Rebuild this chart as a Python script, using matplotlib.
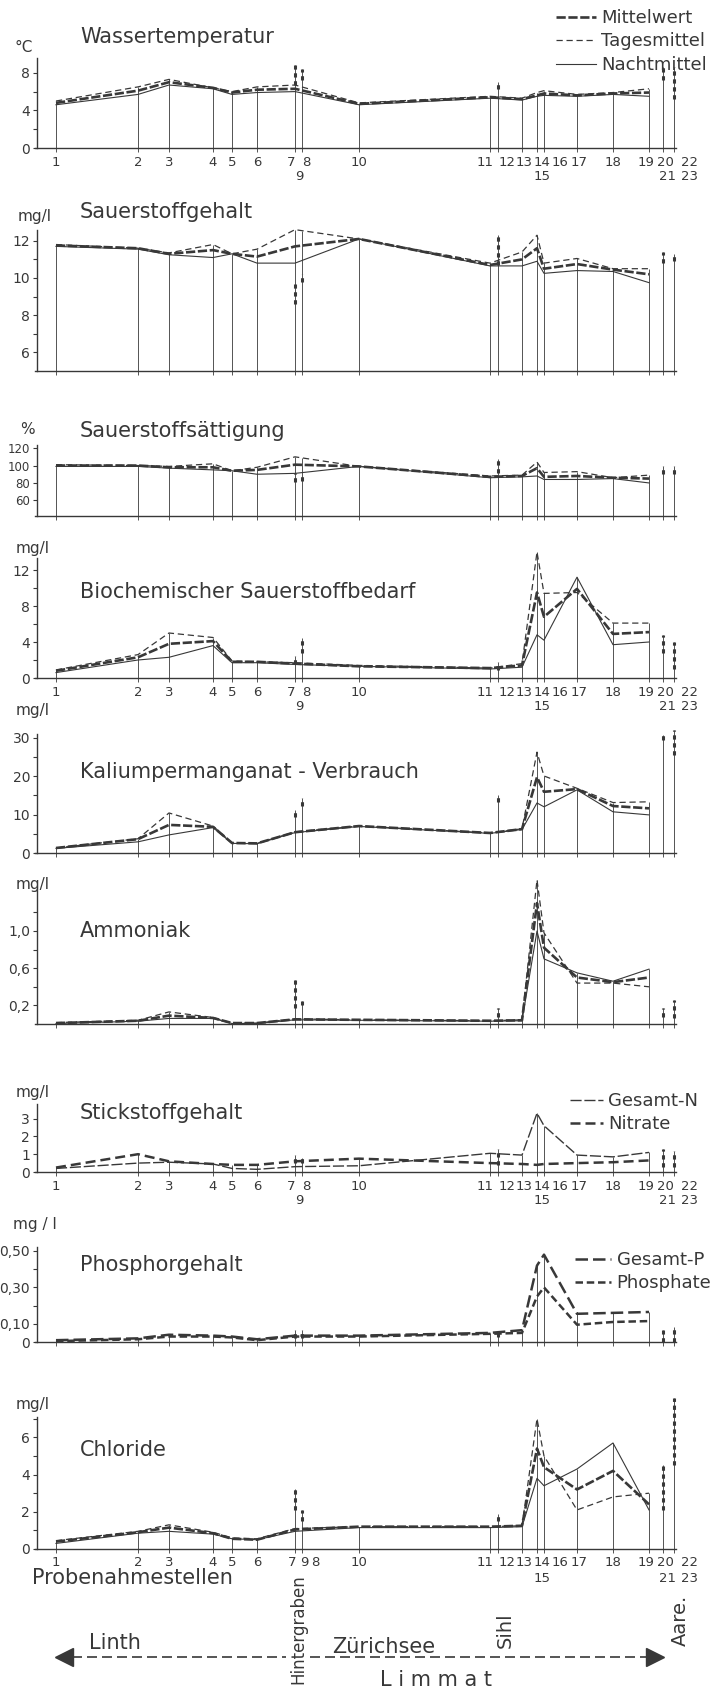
import numpy as np
import matplotlib.pyplot as plt
from matplotlib.lines import Line2D

W, H = 724, 1695
INK = "#383838"
plt.rcParams["font.family"] = ["DejaVu Sans"]

# Probenahmestellen, Lage entlang Linth - Zürichsee - Limmat (Zeichnungseinheiten)
stations = ["1", "2", "3", "4", "5", "6", "7", "8", "9", "10", "11", "12",
            "13", "14", "15", "16", "17", "18", "19", "20", "21", "22", "23"]
station_x = [56, 138, 169, 213, 232, 257, 295, 302, 299, 359, 490, 498,
             522, 537, 539, 544, 577, 613, 649, 663, 663, 674, 674]
X = dict(zip(stations, station_x))
main = ["1", "2", "3", "4", "5", "6", "7", "10", "11", "13", "14", "16", "17", "18", "19"]
side = ["7", "8", "12", "20", "22"]  # Einzelwerte (Zuflüsse, Aare)

# Wassertemperatur °C
temp_mittel = [4.8, 6.1, 7.0, 6.4, 5.9, 6.2, 6.3, 4.7, 5.4, 5.2, 5.6, 5.8, 5.6, 5.8, 5.9]
temp_tages = [5.0, 6.5, 7.3, 6.4, 6.0, 6.5, 6.7, 4.8, 5.5, 5.3, 5.9, 6.1, 5.7, 5.9, 6.3]
temp_nacht = [4.6, 5.7, 6.7, 6.3, 5.7, 5.9, 6.0, 4.6, 5.3, 5.1, 5.5, 5.6, 5.5, 5.7, 5.5]
temp_marks = [(6.7, 8.8), (7.2, 8.4), (6.3, 7.0), (7.2, 8.6), (5.2, 8.6)]

# Sauerstoffgehalt mg/l
o2_mittel = [11.75, 11.6, 11.3, 11.5, 11.3, 11.15, 11.7, 12.1, 10.7, 11.0, 11.6, 10.5, 10.75, 10.45, 10.2]
o2_tages = [11.8, 11.6, 11.35, 11.8, 11.3, 11.55, 12.6, 12.1, 10.8, 11.4, 12.3, 10.8, 11.05, 10.5, 10.5]
o2_nacht = [11.7, 11.55, 11.25, 11.1, 11.3, 10.8, 10.8, 12.1, 10.65, 10.65, 10.9, 10.25, 10.4, 10.35, 9.75]
o2_marks = [(8.6, 9.7), (9.8, 10.2), (10.7, 12.3), (10.8, 11.4), (10.9, 11.3)]

# Sauerstoffsättigung %
sat_mittel = [100, 100, 98, 98, 94, 95, 101, 99, 87, 88, 97, 87, 88, 86, 85]
sat_tages = [101, 100, 99, 102, 94, 98, 110, 99, 88, 89, 104, 92, 93, 86, 89]
sat_nacht = [99, 99, 97, 95, 94, 90, 91, 99, 86, 87, 88, 84, 84, 85, 80]
sat_marks = [(81, 91), (82, 90), (91, 108), (90, 99), (90, 99)]

# Biochemischer Sauerstoffbedarf mg/l
bsb_mittel = [0.8, 2.3, 3.8, 4.1, 1.8, 1.8, 1.6, 1.3, 1.1, 1.4, 9.5, 6.8, 9.9, 4.9, 5.1]
bsb_tages = [0.9, 2.6, 5.0, 4.5, 1.9, 1.8, 1.7, 1.4, 1.1, 1.6, 14.0, 9.4, 9.5, 6.1, 6.1]
bsb_nacht = [0.6, 2.0, 2.3, 3.6, 1.7, 1.7, 1.5, 1.3, 1.0, 1.2, 4.8, 4.2, 11.2, 3.7, 4.0]
bsb_marks = [(1.6, 2.4), (2.8, 4.5), (0.9, 1.8), (2.8, 4.8), (1.0, 4.0)]

# Kaliumpermanganat-Verbrauch mg/l
kmn_mittel = [1.3, 3.6, 7.3, 6.8, 2.6, 2.5, 5.4, 7.0, 5.2, 6.2, 19.7, 15.9, 16.6, 12.2, 11.6]
kmn_tages = [1.3, 3.7, 10.4, 7.0, 2.6, 2.5, 5.5, 7.0, 5.2, 6.3, 26.2, 20.0, 16.8, 13.1, 13.3]
kmn_nacht = [1.2, 2.9, 4.7, 6.6, 2.5, 2.4, 5.3, 6.9, 5.1, 6.1, 13.0, 12.0, 16.4, 10.7, 9.9]
kmn_marks = [(9.4, 11.2), (12.2, 14.3), (13.3, 15.0), (29.4, 30.6), (25.4, 32.0)]

# Ammoniak mg/l
nh_mittel = [0.01, 0.035, 0.09, 0.065, 0.01, 0.01, 0.05, 0.045, 0.035, 0.04, 1.3, 0.82, 0.50, 0.45, 0.50]
nh_tages = [0.015, 0.04, 0.13, 0.07, 0.01, 0.01, 0.055, 0.045, 0.035, 0.045, 1.55, 0.98, 0.44, 0.44, 0.40]
nh_nacht = [0.005, 0.03, 0.06, 0.06, 0.005, 0.005, 0.045, 0.04, 0.03, 0.035, 1.0, 0.70, 0.55, 0.46, 0.59]
nh_marks = [(0.17, 0.47), (0.20, 0.25), (0.08, 0.17), (0.08, 0.17), (0.06, 0.26)]

# Stickstoffgehalt mg/l
n_gesamt = [0.2, 0.5, 0.55, 0.45, 0.2, 0.15, 0.3, 0.35, 1.05, 0.95, 3.3, 2.6, 0.95, 0.85, 1.1]
n_nitrat = [0.25, 1.0, 0.6, 0.45, 0.4, 0.4, 0.6, 0.75, 0.5, 0.45, 0.4, 0.45, 0.5, 0.55, 0.65]
n_marks = [(0.5, 0.95), (0.5, 0.8), (0.4, 1.3), (0.3, 1.3), (0.3, 1.2)]

# Phosphorgehalt mg/l
p_gesamt = [0.01, 0.02, 0.04, 0.035, 0.03, 0.015, 0.035, 0.035, 0.05, 0.065, 0.42, 0.48, 0.155, 0.16, 0.165]
p_phosphat = [0.005, 0.015, 0.03, 0.03, 0.025, 0.01, 0.03, 0.03, 0.045, 0.05, 0.25, 0.30, 0.095, 0.11, 0.115]
p_marks = [(0.02, 0.065), (0.02, 0.065), (0.03, 0.05), (0.0, 0.065), (0.0, 0.08)]

# Chloride mg/l
cl_mittel = [0.4, 0.9, 1.15, 0.85, 0.55, 0.5, 1.05, 1.2, 1.2, 1.25, 5.4, 4.4, 3.2, 4.2, 2.4]
cl_tages = [0.45, 0.95, 1.3, 0.9, 0.6, 0.55, 1.1, 1.2, 1.2, 1.25, 7.0, 5.0, 2.1, 2.8, 3.0]
cl_nacht = [0.3, 0.85, 0.95, 0.8, 0.55, 0.5, 0.95, 1.15, 1.15, 1.2, 3.8, 3.4, 4.3, 5.7, 2.1]
cl_marks = [(2.1, 3.2), (1.5, 2.1), (1.5, 1.9), (2.1, 4.5), (4.5, 8.1)]

# Linienarten
MITTEL = dict(lw=1.9, dashes=(3.5, 1.0))
TAGES = dict(lw=0.9, dashes=(5, 3))
NACHT = dict(lw=0.8)
GES_N = dict(lw=1.0, dashes=(8, 2))
NITRAT = dict(lw=1.8, dashes=(4, 2))
GES_P = dict(lw=1.8, dashes=(5, 2))
PHOS = dict(lw=1.8, dashes=(3, 1.5))

fig = plt.figure(figsize=(W / 100, H / 100), dpi=100)
fig.patch.set_facecolor("white")
ov = fig.add_axes([0, 0, 1, 1], zorder=0)
ov.set_xlim(0, W)
ov.set_ylim(H, 0)
ov.axis("off")

xs_main = [X[s] for s in main]
row1 = ["1", "2", "3", "4", "5", "6", "7", "8", "10", "11", "12", "13", "14", "16", "17", "18", "19", "20", "22"]
row2 = ["9", "15", "21", "23"]
shift = {"7": -4, "8": 4, "11": -5, "12": 9, "13": 2, "14": 5, "15": 3, "16": 16,
         "17": 2, "19": -3, "20": 2, "21": 4, "22": 15, "23": 15}
row1_cl = ["1", "2", "3", "4", "5", "6", "7", "9", "8", "10", "11", "12", "13", "14", "16", "17", "18", "19", "20", "22"]
row2_cl = ["15", "21", "23"]
shift_cl = dict(shift, **{"7": -3, "9": 5, "8": 13})


def panel(axis_px, k, y0, ytop, ticks, labels, series, marks, lsize=10):
    ax = fig.add_axes([0, 1 - axis_px / H, 1, (ytop - y0) * k / H], zorder=2)
    ax.set_xlim(0, W)
    ax.set_ylim(y0, ytop)
    ax.patch.set_visible(False)
    for s in ("top", "right"):
        ax.spines[s].set_visible(False)
    ax.spines["left"].set_position(("data", 37))
    ax.spines["bottom"].set_bounds(35, 676)
    for s in ("left", "bottom"):
        ax.spines[s].set_color(INK)
        ax.spines[s].set_linewidth(1.0)
    ax.set_yticks(ticks)
    ax.set_yticklabels(labels)
    ax.tick_params(axis="y", length=3, width=0.8, pad=2, labelsize=lsize, colors=INK)
    ax.set_xticks(sorted(set(X[s] for s in main + side)))
    ax.set_xticklabels([])
    ax.tick_params(axis="x", length=3, width=0.6, colors=INK)

    for vals, style in series:
        ax.plot(xs_main, vals, color=INK, clip_on=False, solid_joinstyle="round",
                dash_joinstyle="round", **style)

    mark_of = dict(zip(side, marks))
    for st in sorted(set(main + side), key=lambda s: X[s]):
        x = X[st]
        tops = []
        if xs_main[0] <= x <= xs_main[-1]:
            tops += [np.interp(x, xs_main, v) for v, _ in series]
        if st in mark_of:
            tops.append(mark_of[st][1])
        ax.vlines(x, y0, max(tops), color=INK, lw=0.6, clip_on=False)
    for st, (lo, hi) in mark_of.items():
        ax.vlines(X[st], lo, hi, color=INK, lw=2.2, linestyles=(0, (1.4, 1.2)), clip_on=False)
    return ax


def xlabels(ax, r1, r2, sh):
    tr = ax.get_xaxis_transform()
    for lbl in r1:
        ax.annotate(lbl, xy=(X[lbl] + sh.get(lbl, 0), 0), xycoords=tr, xytext=(0, -14),
                    textcoords="offset pixels", ha="center", va="center", fontsize=9.5, color=INK)
    for lbl in r2:
        ax.annotate(lbl, xy=(X[lbl] + sh.get(lbl, 0), 0), xycoords=tr, xytext=(0, -29),
                    textcoords="offset pixels", ha="center", va="center", fontsize=9.5, color=INK)


def legend(ax, handles, names, x, y, hl):
    ax.legend(handles, names, loc="upper left", bbox_to_anchor=(x / W, 1 - y / H),
              bbox_transform=fig.transFigure, frameon=False, fontsize=13,
              handlelength=hl, handletextpad=0.3, labelspacing=0.3,
              borderpad=0, borderaxespad=0, labelcolor=INK)


def h(style):
    return Line2D([], [], color=INK, **style)


three = lambda m, t, n: [(t, TAGES), (n, NACHT), (m, MITTEL)]

# 1 Wassertemperatur
a1 = panel(148, 9.4, 0, 9.6, [0, 2, 4, 6, 8], ["0", "", "4", "", "8"],
           three(temp_mittel, temp_tages, temp_nacht), temp_marks)
xlabels(a1, row1, row2, shift)
legend(a1, [h(MITTEL), h(TAGES), h(NACHT)], ["Mittelwert", "Tagesmittel", "Nachtmittel"], 556, 9, 2.2)

# 2 Sauerstoffgehalt
panel(371, 18.6, 5, 12.6, [6, 7, 8, 9, 10, 11, 12], ["6", "", "8", "", "10", "", "12"],
      three(o2_mittel, o2_tages, o2_nacht), o2_marks)

# 3 Sauerstoffsättigung
panel(516, 0.87, 42, 124, [60, 80, 100, 120], ["60", "80", "100", "120"],
      three(sat_mittel, sat_tages, sat_nacht), sat_marks, lsize=8.5)

# 4 BSB
a4 = panel(678, 9.0, 0, 13.3, [0, 2, 4, 6, 8, 10, 12], ["0", "", "4", "", "8", "", "12"],
           three(bsb_mittel, bsb_tages, bsb_nacht), bsb_marks)
xlabels(a4, row1, row2, shift)

# 5 KMnO4
panel(853, 3.85, 0, 31, [0, 5, 10, 15, 20, 25, 30], ["0", "", "10", "", "20", "", "30"],
      three(kmn_mittel, kmn_tages, kmn_nacht), kmn_marks)

# 6 Ammoniak
panel(1024, 93, 0, 1.45, [0.2, 0.4, 0.6, 0.8, 1.0, 1.2], ["0,2", "", "0,6", "", "1,0", ""],
      three(nh_mittel, nh_tages, nh_nacht), nh_marks)

# 7 Stickstoffgehalt
a7 = panel(1172, 17.8, 0, 3.8, [0, 1, 2, 3], ["0", "1", "2", "3"],
           [(n_gesamt, GES_N), (n_nitrat, NITRAT)], n_marks)
xlabels(a7, row1, row2, shift)
legend(a7, [h(GES_N), h(NITRAT)], ["Gesamt-N", "Nitrate"], 570, 1092, 1.8)

# 8 Phosphorgehalt
a8 = panel(1342, 182, 0, 0.52, [0, 0.1, 0.2, 0.3, 0.4, 0.5], ["0", "0,10", "", "0,30", "", "0,50"],
           [(p_gesamt, GES_P), (p_phosphat, PHOS)], p_marks)
legend(a8, [h(GES_P), h(PHOS)], ["Gesamt-P", "Phosphate"], 575, 1251, 2.0)

# 9 Chloride
a9 = panel(1549, 18.6, 0, 7.1, [0, 1, 2, 3, 4, 5, 6, 7], ["0", "", "2", "", "4", "", "6", ""],
           three(cl_mittel, cl_tages, cl_nacht), cl_marks)
xlabels(a9, row1_cl, row2_cl, shift_cl)

# Titel und Einheiten
titles = [("Wassertemperatur", 37), ("Sauerstoffgehalt", 212), ("Sauerstoffsättigung", 431),
          ("Biochemischer Sauerstoffbedarf", 592), ("Kaliumpermanganat - Verbrauch", 772),
          ("Ammoniak", 931), ("Stickstoffgehalt", 1113), ("Phosphorgehalt", 1265), ("Chloride", 1450)]
for t, y in titles:
    ov.text(80, y, t, fontsize=15, color=INK, ha="left", va="center")
units = [("°C", 24, 47), ("mg/l", 35, 217), ("%", 27, 429), ("mg/l", 33, 549), ("mg/l", 33, 710),
         ("mg/l", 33, 885), ("mg/l", 33, 1093), ("mg / l", 35, 1225), ("mg/l", 33, 1404)]
for t, x, y in units:
    ov.text(x, y, t, fontsize=11, color=INK, ha="center", va="center")

# Flusslauf
ov.text(32, 1578, "Probenahmestellen", fontsize=15, color=INK, ha="left", va="center")
ov.text(298, 1574, "Hintergraben", fontsize=12, color=INK, rotation=90, ha="center", va="top")
ov.text(505, 1630, "Sihl", fontsize=14, color=INK, rotation=90, ha="center", va="center")
ov.text(680, 1620, "Aare.", fontsize=14, color=INK, rotation=90, ha="center", va="center")
ov.text(89, 1643, "Linth", fontsize=15, color=INK, ha="left", va="center")
ov.text(332, 1647, "Zürichsee", fontsize=15, color=INK, ha="left", va="center")
ov.text(436, 1680, "L i m m a t", fontsize=15, color=INK, ha="center", va="center")
ov.plot([72, 286], [1657, 1657], color=INK, lw=1.2, dashes=(6, 3))
ov.plot([310, 648], [1657, 1657], color=INK, lw=1.2, dashes=(6, 3))
ov.plot([64], [1657], marker="<", ms=13, color=INK, mec=INK)
ov.plot([655], [1657], marker=">", ms=13, color=INK, mec=INK)

fig.savefig("out.png", dpi=100, facecolor="white")
